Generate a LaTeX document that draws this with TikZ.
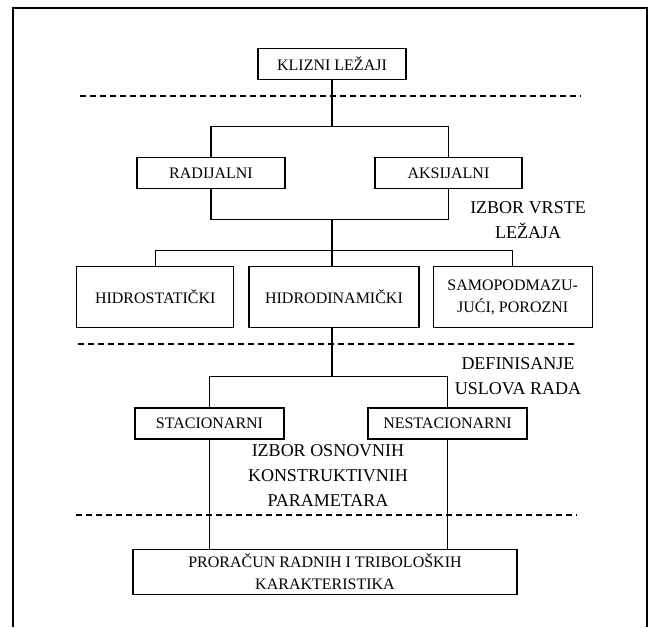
\documentclass[tikz,border=0pt]{standalone}
\usepackage{fontspec}
\setmainfont{Liberation Serif}
\usetikzlibrary{positioning}
\tikzset{
  item box/.style={draw, line width=1.2pt, align=center, inner sep=2pt,
    minimum height=31pt, font=\fontsize{16}{22.5}\selectfont},
  tall box/.style={item box, minimum height=61pt},
  link/.style={line width=1.2pt},
  split line/.style={line width=1.1pt, dash pattern=on 6pt off 4pt},
  phase label/.style={align=center, font=\fontsize{18}{25}\selectfont},
  frame line/.style={line width=1.3pt}
}

\begin{document}
\begin{tikzpicture}[x=1pt, y=1pt]
  \useasboundingbox (0,0) rectangle (651,-627);
  \draw[frame line] (13,-627) -- (13,-8) -- (647,-8) -- (647,-627);

  % boxes
  \node[item box, minimum width=148pt] (klizni) at (332,-64) {KLIZNI LEŽAJI};
  \node[item box, minimum width=148pt, below=77pt of klizni, xshift=-121pt] (radijalni) {RADIJALNI};
  \node[item box, minimum width=147pt, below=77pt of klizni, xshift=116.5pt] (aksijalni) {AKSIJALNI};
  \node[tall box, minimum width=170pt, below=186pt of klizni, xshift=2pt] (hidrodin) {HIDRODINAMIČKI};
  \node[tall box, minimum width=157pt, left=14pt of hidrodin] (hidrostat) {HIDROSTATIČKI};
  \node[tall box, minimum width=159pt, right=13pt of hidrodin] (samopod) {SAMOPODMAZU-\\JUĆI, POROZNI};
  \node[item box, minimum width=149pt, below=79pt of hidrodin, xshift=-124.5pt] (stac) {STACIONARNI};
  \node[item box, minimum width=159pt, below=79pt of hidrodin, xshift=113.5pt] (nestac) {NESTACIONARNI};
  \node[item box, minimum width=384pt, minimum height=45pt, below=109pt of stac, xshift=115.5pt] (proracun)
    {PRORAČUN RADNIH I TRIBOLOŠKIH\\KARAKTERISTIKA};

  % phases
  \node[phase label] (vrsta) at (528,-220) {IZBOR VRSTE\\LEŽAJA};
  \node[phase label] (uslovi) at (518,-376) {DEFINISANJE\\USLOVA RADA};
  \node[phase label] (parametri) at (328,-476) {IZBOR OSNOVNIH\\KONSTRUKTIVNIH\\PARAMETARA};

  \draw[split line] (80,-96) -- (581,-96);
  \draw[split line] (78,-344) -- (577,-344);
  \draw[split line] (76,-515) -- (577,-515);

  % connectors
  \draw[link] (radijalni.north) -- ++(0,31) coordinate (fork1) -| (aksijalni.north);
  \draw[link] (klizni.south) -- (klizni.south |- fork1);
  \draw[link] (radijalni.south) -- ++(0,-30) coordinate (join1) -| (aksijalni.south);
  \draw[link] (klizni.south |- join1) -- (klizni.south |- hidrodin.north);
  \draw[link] (hidrostat.north) -- ++(0,16) -| (samopod.north);
  \draw[link] (stac.north) -- ++(0,31) coordinate (fork3) -| (nestac.north);
  \draw[link] (klizni.south |- hidrodin.south) -- (klizni.south |- fork3);
  \draw[link] (stac.south) -- (stac.south |- proracun.north);
  \draw[link] (nestac.south) -- (nestac.south |- proracun.north);
\end{tikzpicture}
\end{document}
